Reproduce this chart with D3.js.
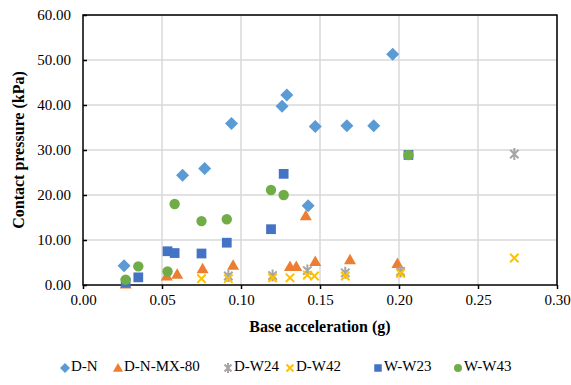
<!DOCTYPE html>
<html>
<head>
<meta charset="utf-8">
<script src="https://cdn.jsdelivr.net/npm/d3@7"></script>
<style>
  body { margin: 0; background: #fff; }
</style>
</head>
<body>
<svg id="chart" width="571" height="385"></svg>
<script>
// values
var seriesNames = ["D-N", "D-N-MX-80", "D-W24", "D-W42", "W-W23", "W-W43"];
var seriesColors = ["#5B9BD5", "#ED7D31", "#A5A5A5", "#FFC000", "#4472C4", "#70AD47"];
var seriesShapes = ["diamond", "triangle", "star", "x", "square", "circle"];

var dnX = [0.026, 0.063, 0.077, 0.094, 0.126, 0.129, 0.1425, 0.147, 0.167, 0.184, 0.196];
var dnY = [4.3, 24.4, 25.9, 35.9, 39.7, 42.2, 17.6, 35.2, 35.4, 35.4, 51.3];

var mxX = [0.027, 0.053, 0.0596, 0.0757, 0.095, 0.131, 0.135, 0.141, 0.147, 0.169, 0.199];
var mxY = [0.2, 2.0, 2.4, 3.6, 4.4, 4.1, 4.1, 15.4, 5.2, 5.6, 4.8];

var w24X = [0.092, 0.12, 0.142, 0.166, 0.201, 0.273];
var w24Y = [2.0, 2.1, 3.2, 2.7, 3.0, 29.1];

var w42X = [0.075, 0.092, 0.12, 0.131, 0.142, 0.1465, 0.166, 0.201, 0.273];
var w42Y = [1.4, 1.4, 1.6, 1.6, 2.2, 2.0, 2.0, 2.6, 6.0];

var ww23X = [0.027, 0.035, 0.0535, 0.058, 0.075, 0.091, 0.119, 0.127, 0.206];
var ww23Y = [0.5, 1.7, 7.5, 7.1, 7.0, 9.4, 12.4, 24.7, 28.9];

var ww43X = [0.027, 0.035, 0.0535, 0.058, 0.075, 0.091, 0.119, 0.127, 0.206];
var ww43Y = [1.2, 4.15, 3.0, 18.0, 14.2, 14.6, 21.1, 20.0, 28.9];

var xTicks = [0, 0.05, 0.1, 0.15, 0.2, 0.25, 0.3];
var yTicks = [0, 10, 20, 30, 40, 50, 60];

var allX = [dnX, mxX, w24X, w42X, ww23X, ww43X];
var allY = [dnY, mxY, w24Y, w42Y, ww23Y, ww43Y];

var serif = "'Times New Roman', 'Liberation Serif', 'DejaVu Serif', serif";

var svg = d3.select("#chart");
var plotL = 83, plotT = 15, plotR = 557, plotB = 285;

var x = d3.scaleLinear().domain([0, 0.3]).range([plotL, plotR]);
var y = d3.scaleLinear().domain([0, 60]).range([plotB, plotT]);

// grid
svg.append("g").selectAll("line").data(yTicks.slice(1)).enter().append("line")
  .attr("x1", plotL).attr("x2", plotR)
  .attr("y1", function(d) { return y(d); }).attr("y2", function(d) { return y(d); })
  .attr("stroke", "#D9D9D9").attr("stroke-width", 1.5);
svg.append("g").selectAll("line").data(xTicks.slice(1)).enter().append("line")
  .attr("y1", plotT).attr("y2", plotB)
  .attr("x1", function(d) { return x(d); }).attr("x2", function(d) { return x(d); })
  .attr("stroke", "#D9D9D9").attr("stroke-width", 1.5);

// axes
var xAxis = svg.append("g").attr("transform", "translate(0," + plotB + ")")
  .call(d3.axisBottom(x).tickValues(xTicks).tickFormat(d3.format(".2f")).tickSizeInner(4).tickSizeOuter(0));
var yAxis = svg.append("g").attr("transform", "translate(" + plotL + ",0)")
  .call(d3.axisLeft(y).tickValues(yTicks).tickFormat(d3.format(".2f")).tickSizeInner(-4).tickSizeOuter(0));

[xAxis, yAxis].forEach(function(a) {
  a.select(".domain").remove();
  a.selectAll("line").attr("stroke", "#000").attr("stroke-width", 1.5);
  a.selectAll("text").attr("fill", "#000").style("font-family", serif).style("font-size", "15px");
});
xAxis.selectAll("text").attr("y", 9);
yAxis.selectAll("text").attr("x", -12);

// frame
svg.append("rect").attr("x", plotL).attr("y", plotT)
  .attr("width", plotR - plotL).attr("height", plotB - plotT)
  .attr("fill", "none").attr("stroke", "#000").attr("stroke-width", 1.5);

// markers
function drawMarker(g, shape, color, cx, cy, s) {
  if (shape === "diamond") {
    g.append("path").attr("d", "M" + cx + "," + (cy - s) + "L" + (cx + s) + "," + cy + "L" + cx + "," + (cy + s) + "L" + (cx - s) + "," + cy + "Z")
      .attr("fill", color);
  } else if (shape === "triangle") {
    g.append("path").attr("d", "M" + cx + "," + (cy - s) + "L" + (cx + s) + "," + (cy + s * 0.75) + "L" + (cx - s) + "," + (cy + s * 0.75) + "Z")
      .attr("fill", color);
  } else if (shape === "square") {
    g.append("rect").attr("x", cx - s * 0.75).attr("y", cy - s * 0.75)
      .attr("width", s * 1.5).attr("height", s * 1.5).attr("fill", color);
  } else if (shape === "circle") {
    g.append("circle").attr("cx", cx).attr("cy", cy).attr("r", s * 0.8).attr("fill", color);
  } else if (shape === "x") {
    var k = s * 0.7;
    g.append("path").attr("d", "M" + (cx - k) + "," + (cy - k) + "L" + (cx + k) + "," + (cy + k) + "M" + (cx - k) + "," + (cy + k) + "L" + (cx + k) + "," + (cy - k))
      .attr("stroke", color).attr("stroke-width", 2).attr("fill", "none");
  } else if (shape === "star") {
    var k2 = s * 0.7;
    g.append("path").attr("d", "M" + (cx - k2) + "," + (cy - k2) + "L" + (cx + k2) + "," + (cy + k2) + "M" + (cx - k2) + "," + (cy + k2) + "L" + (cx + k2) + "," + (cy - k2) + "M" + cx + "," + (cy - s) + "L" + cx + "," + (cy + s))
      .attr("stroke", color).attr("stroke-width", 2).attr("fill", "none");
  }
}

var sizes = [6.5, 6, 6, 6, 6.5, 6.5];
for (var i = 0; i < seriesNames.length; i++) {
  var g = svg.append("g");
  for (var j = 0; j < allX[i].length; j++) {
    drawMarker(g, seriesShapes[i], seriesColors[i], x(allX[i][j]), y(allY[i][j]), sizes[i]);
  }
}

// axis titles
svg.append("text").attr("x", (plotL + plotR) / 2).attr("y", 332)
  .attr("text-anchor", "middle").style("font-family", serif)
  .style("font-size", "16px").style("font-weight", "bold")
  .text("Base acceleration (g)");
svg.append("text").attr("transform", "translate(20," + ((plotT + plotB) / 2) + ") rotate(-90)")
  .attr("text-anchor", "middle").attr("dominant-baseline", "middle").style("font-family", serif)
  .style("font-size", "16px").style("font-weight", "bold")
  .text("Contact pressure (kPa)");

// legend
var legendX = [65, 118, 228, 290, 378, 458];
var legendY = 368;
for (var i = 0; i < seriesNames.length; i++) {
  var lg = svg.append("g");
  drawMarker(lg, seriesShapes[i], seriesColors[i], legendX[i], legendY, 5);
  lg.append("text").attr("x", legendX[i] + 6).attr("y", legendY)
    .attr("dominant-baseline", "middle").style("font-family", serif)
    .style("font-size", "15px").attr("fill", "#000")
    .text(seriesNames[i]);
}
</script>
</body>
</html>
